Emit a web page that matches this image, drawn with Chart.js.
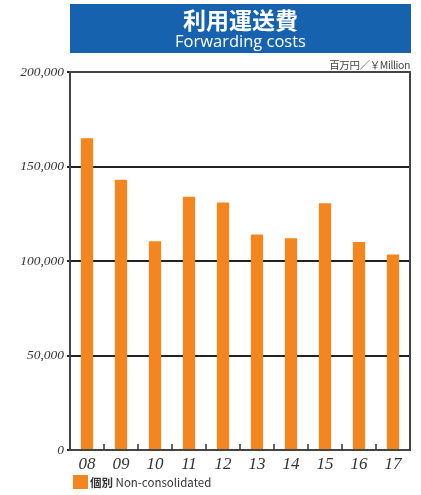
<!DOCTYPE html>
<html>
<head>
<meta charset="utf-8">
<script src="https://cdn.jsdelivr.net/npm/chart.js@4/dist/chart.umd.min.js"></script>
<style>
  body { margin: 0; background: #fff; }
  #wrap { position: relative; width: 421px; height: 495px; }
  #titleBox { position: absolute; left: 70px; top: 4px; width: 341px; height: 49px; background: #1762af; color: #fff; text-align: center; font-family: "Noto Sans CJK JP", "Noto Sans", sans-serif; }
  #titleJa { font-size: 23px; font-weight: bold; line-height: 26px; margin-top: 2px; }
  #titleEn { font-size: 16.5px; line-height: 18px; font-family: "Open Sans", "Noto Sans", sans-serif; }
  #unit { position: absolute; right: 11px; top: 57px; font-size: 10.5px; color: #444; font-family: "Noto Sans CJK JP", sans-serif; letter-spacing: -0.4px; }
  #legend { position: absolute; left: 73px; top: 475px; font-size: 11.5px; color: #333; font-family: "Noto Sans CJK JP", "Noto Sans", sans-serif; line-height: 14px; }
  #legend span.box { display: inline-block; width: 15px; height: 14px; background: #f5861f; vertical-align: top; margin-right: 2px; }
  #legend b { font-weight: bold; }
  canvas { position: absolute; left: 0; top: 0; }
</style>
</head>
<body>
<div id="wrap">
  <canvas id="grafico" width="421" height="495"></canvas>
  <div id="titleBox"><div id="titleJa">利用運送費</div><div id="titleEn">Forwarding costs</div></div>
  <div id="unit">百万円／￥Million</div>
  <div id="legend"><span class="box"></span><b>個別</b> Non-consolidated</div>
</div>
<script>
/* dados do gráfico */
var anos = ['08', '09', '10', '11', '12', '13', '14', '15', '16', '17'];
var custos = [165000, 143000, 110500, 134000, 131000, 114000, 112000, 130500, 110000, 103500];
var ticksY = [0, 50000, 100000, 150000, 200000];

/* moldura e marcas do eixo x */
var moldura = {
    id: 'moldura',
    afterDraw: function (chart) {
        var ctx = chart.ctx;
        var a = chart.chartArea;
        var x = chart.scales.x;
        ctx.save();
        ctx.strokeStyle = '#444';
        ctx.lineWidth = 2;
        ctx.strokeRect(a.left, a.top, a.right - a.left, a.bottom - a.top);
        ctx.lineWidth = 1.5;
        ctx.strokeStyle = '#333';
        for (var i = 0; i < anos.length - 1; i++) {
            var px = (x.getPixelForValue(i) + x.getPixelForValue(i + 1)) / 2;
            ctx.beginPath();
            ctx.moveTo(px, a.bottom);
            ctx.lineTo(px, a.bottom - 6);
            ctx.stroke();
        }
        ctx.restore();
    }
};

var ctx = document.getElementById('grafico').getContext('2d');
var grafico = new Chart(ctx, {
    type: 'bar',
    data: {
        labels: anos,
        datasets: [{
            label: 'Non-consolidated',
            backgroundColor: '#f5861f',
            data: custos,
            barPercentage: 0.36,
            categoryPercentage: 1
        }]
    },
    options: {
        responsive: false,
        animation: false,
        layout: { padding: { top: 72, right: 11, left: 0, bottom: 0 } },
        plugins: {
            legend: { display: false },
            tooltip: { enabled: false }
        },
        scales: {
            x: {
                afterFit: function (s) { s.height = 45; },
                grid: { display: false },
                border: { display: false },
                ticks: {
                    color: '#333',
                    padding: -4,
                    font: { family: 'Liberation Serif', style: 'italic', size: 17 }
                }
            },
            y: {
                min: 0,
                max: 200000,
                afterFit: function (s) { s.width = 70; },
                afterBuildTicks: function (s) { s.ticks = ticksY.map(function (v) { return { value: v }; }); },
                grid: { color: '#222', lineWidth: 2, tickLength: 3 },
                border: { display: false },
                ticks: {
                    color: '#333',
                    padding: 3,
                    font: { family: 'Liberation Serif', style: 'italic', size: 13.5 },
                    callback: function (v) { return v.toLocaleString('en-US'); }
                }
            }
        }
    },
    plugins: [moldura]
});
</script>
</body>
</html>
